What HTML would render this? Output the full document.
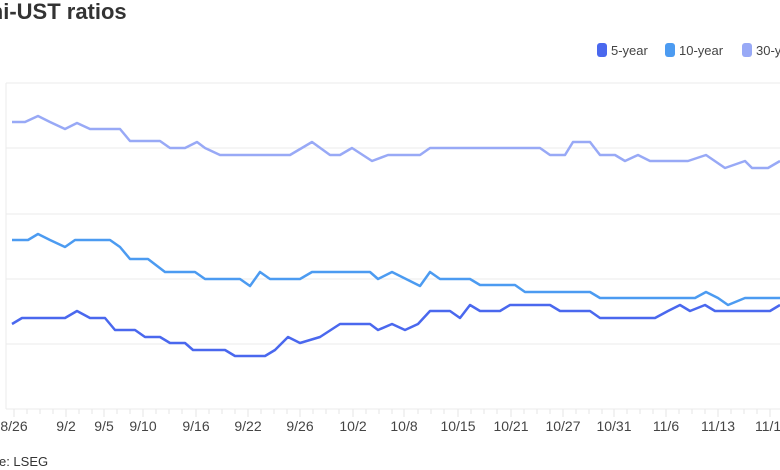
<!DOCTYPE html>
<html><head><meta charset="utf-8"><style>
body{margin:0;width:780px;height:470px;overflow:hidden;background:#fff;font-family:"Liberation Sans",sans-serif;position:relative}
.t{position:absolute;white-space:nowrap}
</style></head><body>
<div class="t" style="left:-42px;top:-1px;font-size:22px;font-weight:bold;color:#333">Muni-UST ratios</div>
<div class="t" style="left:-35px;top:454px;font-size:13px;color:#333">Source: LSEG</div>
<svg width="780" height="470" style="position:absolute;left:0;top:0">
<g font-size="13" fill="#444" font-family="Liberation Sans, sans-serif">
<rect x="597" y="43" width="10" height="14" rx="3" fill="#4a68ee"/><text x="611" y="55">5-year</text>
<rect x="665" y="43" width="10" height="14" rx="3" fill="#4c9bf1"/><text x="679" y="55">10-year</text>
<rect x="742" y="43" width="10" height="14" rx="3" fill="#98a9f6"/><text x="756" y="55">30-year</text>
</g>
<g stroke="#ebebeb" stroke-width="1">
<line x1="6" y1="83" x2="780" y2="83"/><line x1="6" y1="148" x2="780" y2="148"/><line x1="6" y1="214" x2="780" y2="214"/><line x1="6" y1="279" x2="780" y2="279"/><line x1="6" y1="344" x2="780" y2="344"/><line x1="6" y1="409" x2="780" y2="409"/><line x1="6" y1="83" x2="6" y2="409"/>
</g>
<g stroke="#e6e6e6">
<path d="M14 409v8M27 409v5M40 409v5M53 409v5M66 409v8M79 409v5M92 409v5M104 409v8M117 409v5M130 409v5M143 409v8M156 409v5M169 409v5M182 409v5M196 409v8M209 409v5M222 409v5M235 409v5M248 409v8M261 409v5M274 409v5M287 409v5M300 409v8M313 409v5M326 409v5M339 409v5M353 409v8M366 409v5M379 409v5M392 409v5M404 409v8M418 409v5M431 409v5M444 409v5M458 409v8M471 409v5M484 409v5M497 409v5M511 409v8M524 409v5M537 409v5M550 409v5M563 409v8M576 409v5M589 409v5M602 409v5M614 409v8M627 409v5M640 409v5M653 409v5M666 409v8M679 409v5M692 409v5M705 409v5M718 409v8M731 409v5M744 409v5M757 409v5M770 409v8"/>
</g>
<g font-size="14" fill="#444" text-anchor="middle" font-family="Liberation Sans, sans-serif">
<text x="14" y="431">8/26</text><text x="66" y="431">9/2</text><text x="104" y="431">9/5</text><text x="143" y="431">9/10</text><text x="196" y="431">9/16</text><text x="248" y="431">9/22</text><text x="300" y="431">9/26</text><text x="353" y="431">10/2</text><text x="404" y="431">10/8</text><text x="458" y="431">10/15</text><text x="511" y="431">10/21</text><text x="563" y="431">10/27</text><text x="614" y="431">10/31</text><text x="666" y="431">11/6</text><text x="718" y="431">11/13</text><text x="772" y="431">11/19</text>
</g>
<g fill="none" stroke-width="2.5" stroke-linejoin="round">
<polyline stroke="#98a9f6" points="12,122 25,122 38,116 50,122 65,129 77,123 90,129 120,129 130,141 160,141 170,148 185,148 197,142 205,148 220,155 290,155 312,142 330,155 340,155 352,148 372,161 388,155 420,155 430,148 540,148 550,155 565,155 573,142 590,142 600,155 615,155 625,161 638,155 650,161 688,161 706,155 725,168 745,161 752,168 768,168 780,161"/>
<polyline stroke="#4c9bf1" points="12,240 28,240 38,234 50,240 65,247 75,240 110,240 120,247 130,259 148,259 165,272 195,272 205,279 240,279 250,286 260,272 270,279 300,279 312,272 370,272 378,279 392,272 420,286 430,272 440,279 470,279 480,285 515,285 525,292 590,292 600,298 695,298 706,292 718,298 728,305 745,298 780,298"/>
<polyline stroke="#4a68ee" points="12,324 22,318 65,318 77,311 90,318 105,318 115,330 135,330 145,337 160,337 170,343 185,343 193,350 225,350 235,356 265,356 275,350 288,337 300,343 320,337 340,324 370,324 378,330 392,324 405,330 418,324 430,311 450,311 460,318 470,305 480,311 500,311 510,305 550,305 560,311 590,311 600,318 655,318 668,311 680,305 690,311 705,305 715,311 770,311 780,305"/>
</g>
</svg>
</body></html>
